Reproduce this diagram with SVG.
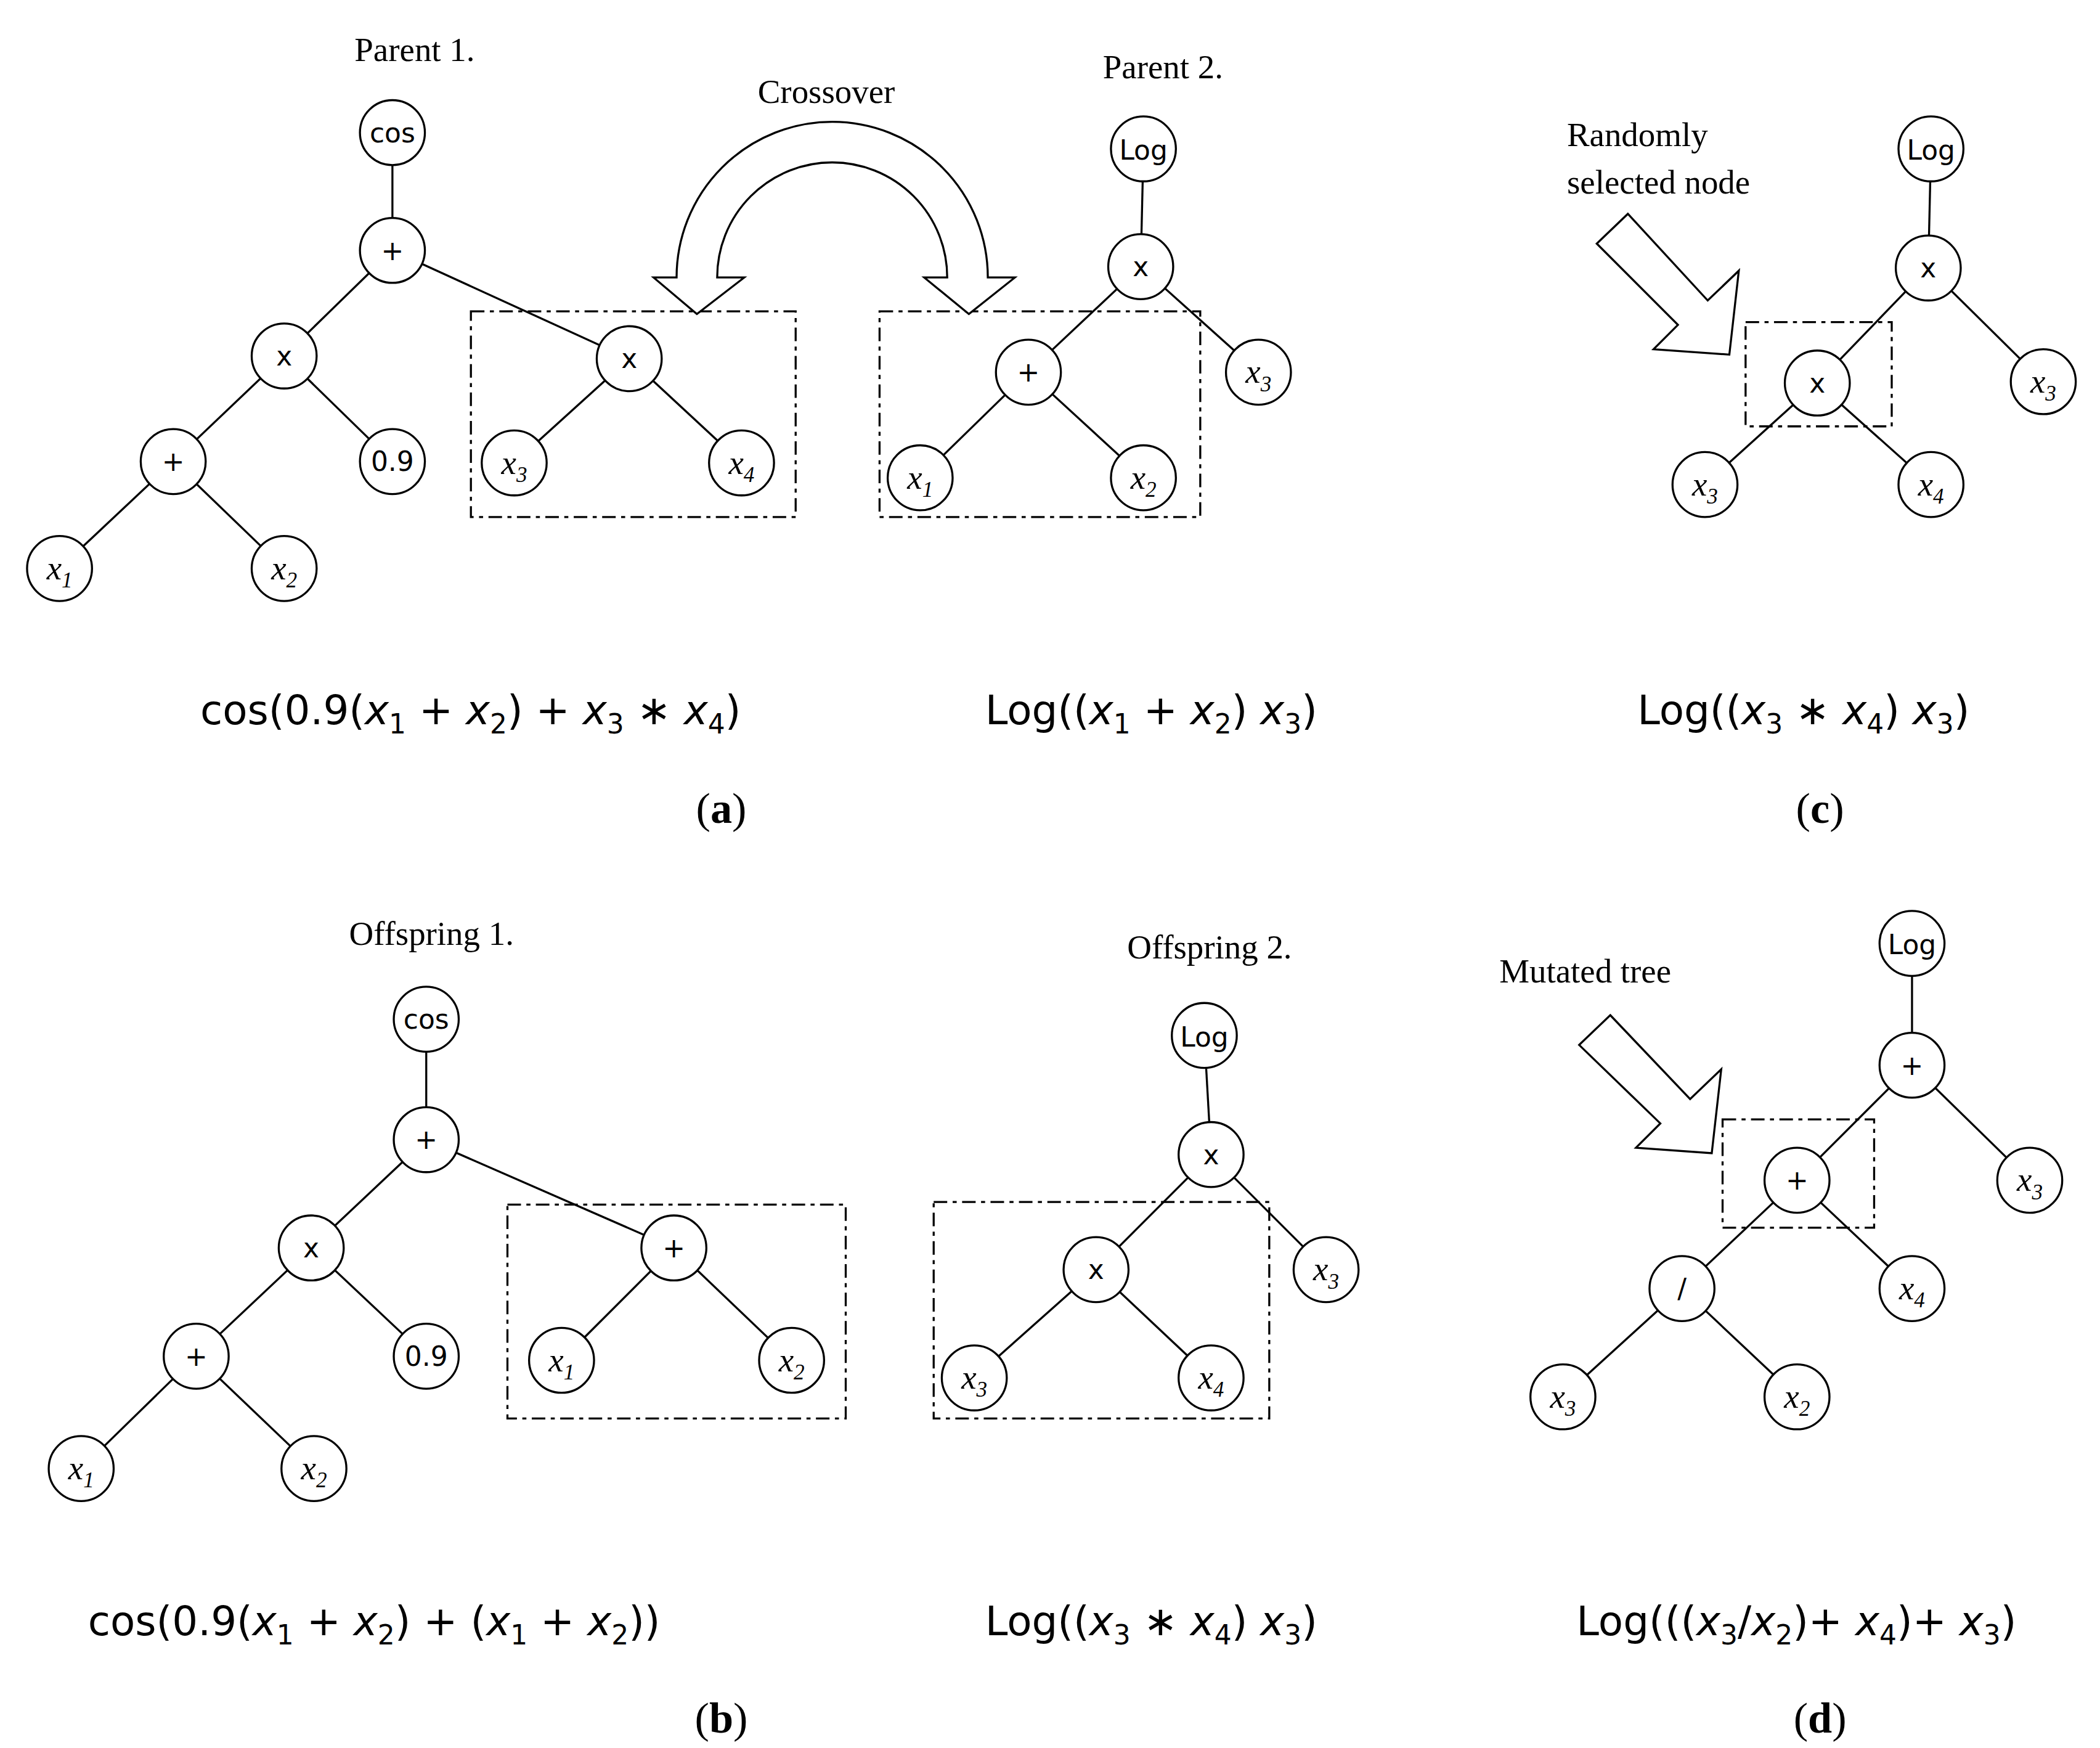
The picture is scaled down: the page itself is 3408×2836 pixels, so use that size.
<svg xmlns="http://www.w3.org/2000/svg" width="3408" height="2836" viewBox="0 0 3408 2836">
<style>
.e line{stroke:#000;stroke-width:1.5}
circle{fill:#fff;stroke:#000;stroke-width:1.5}
.op{font-family:"DejaVu Sans",sans-serif;font-size:20px;text-anchor:middle}
.lv{font-family:"Liberation Serif",serif;font-style:italic;font-size:25px;text-anchor:middle}
.lv tspan{font-size:16px}
.lbl{font-family:"Liberation Serif",serif;font-size:25px}
.f{font-family:"Liberation Serif",serif;font-size:33px}
.fx{font-style:italic}
.fx2{font-size:22px;font-style:normal}
.cap{font-family:"Liberation Serif",serif;font-size:32px;text-anchor:middle}
.box{fill:none;stroke:#000;stroke-width:1.5}
.dd{stroke-dasharray:10,4,3,4}
.arr{fill:#fff;stroke:#000;stroke-width:1.5}
.fs{font-family:"DejaVu Sans",sans-serif;font-size:30px}
</style>
<rect width="3408" height="2836" fill="#fff"/>
<g transform="scale(2.196)">
<g id="connectors" class="e">
<line x1="290" y1="98" x2="290" y2="185"/><line x1="290" y1="185" x2="210" y2="263"/><line x1="290" y1="185" x2="465" y2="265"/>
<line x1="210" y1="263" x2="128" y2="341"/><line x1="210" y1="263" x2="290" y2="341"/>
<line x1="128" y1="341" x2="44" y2="420"/><line x1="128" y1="341" x2="210" y2="420"/>
<line x1="465" y1="265" x2="380" y2="342"/><line x1="465" y1="265" x2="548" y2="342"/>
<line x1="845" y1="110" x2="843" y2="197"/><line x1="843" y1="197" x2="760" y2="275"/><line x1="843" y1="197" x2="930" y2="275"/>
<line x1="760" y1="275" x2="680" y2="353"/><line x1="760" y1="275" x2="845" y2="353"/>
<line x1="1427" y1="110" x2="1425" y2="198"/><line x1="1425" y1="198" x2="1343" y2="283"/><line x1="1425" y1="198" x2="1510" y2="282"/>
<line x1="1343" y1="283" x2="1260" y2="358"/><line x1="1343" y1="283" x2="1427" y2="358"/>
<line x1="315" y1="753" x2="315" y2="842"/><line x1="315" y1="842" x2="230" y2="922"/><line x1="315" y1="842" x2="498" y2="922"/>
<line x1="230" y1="922" x2="145" y2="1002"/><line x1="230" y1="922" x2="315" y2="1002"/>
<line x1="145" y1="1002" x2="60" y2="1085"/><line x1="145" y1="1002" x2="232" y2="1085"/>
<line x1="498" y1="922" x2="415" y2="1005"/><line x1="498" y1="922" x2="585" y2="1005"/>
<line x1="890" y1="765" x2="895" y2="853"/><line x1="895" y1="853" x2="810" y2="938"/><line x1="895" y1="853" x2="980" y2="938"/>
<line x1="810" y1="938" x2="720" y2="1018"/><line x1="810" y1="938" x2="895" y2="1018"/>
<line x1="1413" y1="697" x2="1413" y2="787"/><line x1="1413" y1="787" x2="1328" y2="872"/><line x1="1413" y1="787" x2="1500" y2="872"/>
<line x1="1328" y1="872" x2="1243" y2="952"/><line x1="1328" y1="872" x2="1413" y2="952"/>
<line x1="1243" y1="952" x2="1155" y2="1032"/><line x1="1243" y1="952" x2="1328" y2="1032"/>
</g>
<g id="boxes">
<rect class="box dd" x="348" y="230" width="240" height="152"/>
<rect class="box dd" x="650" y="230" width="237" height="152"/>
<rect class="box dd" x="1290" y="238" width="108" height="77"/>
<rect class="box dd" x="375" y="890" width="250" height="158"/>
<rect class="box dd" x="690" y="888" width="248" height="160"/>
<rect class="box dd" x="1273" y="827" width="112" height="80"/>
</g>
<g id="arrows">
<path class="arr" d="M500,205 A115,115 0 0 1 730,205 L750,205 L716,232 L683,205 L700,205 A85,85 0 0 0 530,205 L550,205 L515,232 L483,205 Z"/>
<polygon class="arr" points="1203,158 1262,222 1285,200 1278,262 1222,258 1240,240 1180,180"/>
<polygon class="arr" points="1190,750 1249,812 1272,790 1265,852 1209,848 1227,830 1167,772"/>
</g>
<g id="labels">
<text class="lbl" x="262" y="45">Parent 1.</text>
<text class="lbl" x="560" y="76">Crossover</text>
<text class="lbl" x="815" y="58">Parent 2.</text>
<text class="lbl" x="1158" y="108">Randomly</text>
<text class="lbl" x="1158" y="143">selected node</text>
<text class="lbl" x="258" y="698">Offspring 1.</text>
<text class="lbl" x="833" y="708">Offspring 2.</text>
<text class="lbl" x="1108" y="726">Mutated tree</text>
</g>
<g id="p1">
<g id="n1"><circle cx="290" cy="98" r="24"/><text class="op" x="290" y="105">cos</text></g>
<g id="n2"><circle cx="290" cy="185" r="24"/><text class="op" x="290" y="192">+</text></g>
<g id="n3"><circle cx="210" cy="263" r="24"/><text class="op" x="210" y="270">x</text></g>
<g id="n4"><circle cx="290" cy="341" r="24"/><text class="op" x="290" y="348">0.9</text></g>
<g id="n5"><circle cx="128" cy="341" r="24"/><text class="op" x="128" y="348">+</text></g>
<g id="n6"><circle cx="44" cy="420" r="24"/><text class="lv" x="44" y="428">x<tspan dy="6">1</tspan></text></g>
<g id="n7"><circle cx="210" cy="420" r="24"/><text class="lv" x="210" y="428">x<tspan dy="6">2</tspan></text></g>
<g id="n8"><circle cx="465" cy="265" r="24"/><text class="op" x="465" y="272">x</text></g>
<g id="n9"><circle cx="380" cy="342" r="24"/><text class="lv" x="380" y="350">x<tspan dy="6">3</tspan></text></g>
<g id="n10"><circle cx="548" cy="342" r="24"/><text class="lv" x="548" y="350">x<tspan dy="6">4</tspan></text></g>
</g>
<g id="p2">
<g id="n11"><circle cx="845" cy="110" r="24"/><text class="op" x="845" y="118" font-size="22">Log</text></g>
<g id="n12"><circle cx="843" cy="197" r="24"/><text class="op" x="843" y="204">x</text></g>
<g id="n13"><circle cx="760" cy="275" r="24"/><text class="op" x="760" y="282">+</text></g>
<g id="n14"><circle cx="930" cy="275" r="24"/><text class="lv" x="930" y="283">x<tspan dy="6">3</tspan></text></g>
<g id="n15"><circle cx="680" cy="353" r="24"/><text class="lv" x="680" y="361">x<tspan dy="6">1</tspan></text></g>
<g id="n16"><circle cx="845" cy="353" r="24"/><text class="lv" x="845" y="361">x<tspan dy="6">2</tspan></text></g>
</g>
<g id="pc">
<g id="n17"><circle cx="1427" cy="110" r="24"/><text class="op" x="1427" y="118" font-size="22">Log</text></g>
<g id="n18"><circle cx="1425" cy="198" r="24"/><text class="op" x="1425" y="205">x</text></g>
<g id="n19"><circle cx="1510" cy="282" r="24"/><text class="lv" x="1510" y="290">x<tspan dy="6">3</tspan></text></g>
<g id="n20"><circle cx="1343" cy="283" r="24"/><text class="op" x="1343" y="290">x</text></g>
<g id="n21"><circle cx="1260" cy="358" r="24"/><text class="lv" x="1260" y="366">x<tspan dy="6">3</tspan></text></g>
<g id="n22"><circle cx="1427" cy="358" r="24"/><text class="lv" x="1427" y="366">x<tspan dy="6">4</tspan></text></g>
</g>
<g id="o1">
<g id="n23"><circle cx="315" cy="753" r="24"/><text class="op" x="315" y="760">cos</text></g>
<g id="n24"><circle cx="315" cy="842" r="24"/><text class="op" x="315" y="849">+</text></g>
<g id="n25"><circle cx="230" cy="922" r="24"/><text class="op" x="230" y="929">x</text></g>
<g id="n26"><circle cx="315" cy="1002" r="24"/><text class="op" x="315" y="1009">0.9</text></g>
<g id="n27"><circle cx="145" cy="1002" r="24"/><text class="op" x="145" y="1009">+</text></g>
<g id="n28"><circle cx="60" cy="1085" r="24"/><text class="lv" x="60" y="1093">x<tspan dy="6">1</tspan></text></g>
<g id="n29"><circle cx="232" cy="1085" r="24"/><text class="lv" x="232" y="1093">x<tspan dy="6">2</tspan></text></g>
<g id="n30"><circle cx="498" cy="922" r="24"/><text class="op" x="498" y="929">+</text></g>
<g id="n31"><circle cx="415" cy="1005" r="24"/><text class="lv" x="415" y="1013">x<tspan dy="6">1</tspan></text></g>
<g id="n32"><circle cx="585" cy="1005" r="24"/><text class="lv" x="585" y="1013">x<tspan dy="6">2</tspan></text></g>
</g>
<g id="o2">
<g id="n33"><circle cx="890" cy="765" r="24"/><text class="op" x="890" y="773" font-size="22">Log</text></g>
<g id="n34"><circle cx="895" cy="853" r="24"/><text class="op" x="895" y="860">x</text></g>
<g id="n35"><circle cx="810" cy="938" r="24"/><text class="op" x="810" y="945">x</text></g>
<g id="n36"><circle cx="980" cy="938" r="24"/><text class="lv" x="980" y="946">x<tspan dy="6">3</tspan></text></g>
<g id="n37"><circle cx="720" cy="1018" r="24"/><text class="lv" x="720" y="1026">x<tspan dy="6">3</tspan></text></g>
<g id="n38"><circle cx="895" cy="1018" r="24"/><text class="lv" x="895" y="1026">x<tspan dy="6">4</tspan></text></g>
</g>
<g id="pd">
<g id="n39"><circle cx="1413" cy="697" r="24"/><text class="op" x="1413" y="705" font-size="22">Log</text></g>
<g id="n40"><circle cx="1413" cy="787" r="24"/><text class="op" x="1413" y="794">+</text></g>
<g id="n41"><circle cx="1500" cy="872" r="24"/><text class="lv" x="1500" y="880">x<tspan dy="6">3</tspan></text></g>
<g id="n42"><circle cx="1328" cy="872" r="24"/><text class="op" x="1328" y="879">+</text></g>
<g id="n43"><circle cx="1243" cy="952" r="24"/><text class="op" x="1243" y="959">/</text></g>
<g id="n44"><circle cx="1413" cy="952" r="24"/><text class="lv" x="1413" y="960">x<tspan dy="6">4</tspan></text></g>
<g id="n45"><circle cx="1155" cy="1032" r="24"/><text class="lv" x="1155" y="1040">x<tspan dy="6">3</tspan></text></g>
<g id="n46"><circle cx="1328" cy="1032" r="24"/><text class="lv" x="1328" y="1040">x<tspan dy="6">2</tspan></text></g>
</g>
<g id="formulas" class="fs">
<text x="148" y="535">cos(0.9(<tspan class="fx">x</tspan><tspan font-size="20" dy="7">1</tspan><tspan dy="-7"> + </tspan><tspan class="fx">x</tspan><tspan font-size="20" dy="7">2</tspan><tspan dy="-7">) + </tspan><tspan class="fx">x</tspan><tspan font-size="20" dy="7">3</tspan><tspan dy="-7"> ∗ </tspan><tspan class="fx">x</tspan><tspan font-size="20" dy="7">4</tspan><tspan dy="-7">)</tspan></text>
<text x="728" y="535">Log((<tspan class="fx">x</tspan><tspan font-size="20" dy="7">1</tspan><tspan dy="-7"> + </tspan><tspan class="fx">x</tspan><tspan font-size="20" dy="7">2</tspan><tspan dy="-7">) </tspan><tspan class="fx">x</tspan><tspan font-size="20" dy="7">3</tspan><tspan dy="-7">)</tspan></text>
<text x="1210" y="535">Log((<tspan class="fx">x</tspan><tspan font-size="20" dy="7">3</tspan><tspan dy="-7"> ∗ </tspan><tspan class="fx">x</tspan><tspan font-size="20" dy="7">4</tspan><tspan dy="-7">) </tspan><tspan class="fx">x</tspan><tspan font-size="20" dy="7">3</tspan><tspan dy="-7">)</tspan></text>
<text x="65" y="1208">cos(0.9(<tspan class="fx">x</tspan><tspan font-size="20" dy="7">1</tspan><tspan dy="-7"> + </tspan><tspan class="fx">x</tspan><tspan font-size="20" dy="7">2</tspan><tspan dy="-7">) + (</tspan><tspan class="fx">x</tspan><tspan font-size="20" dy="7">1</tspan><tspan dy="-7"> + </tspan><tspan class="fx">x</tspan><tspan font-size="20" dy="7">2</tspan><tspan dy="-7">))</tspan></text>
<text x="728" y="1208">Log((<tspan class="fx">x</tspan><tspan font-size="20" dy="7">3</tspan><tspan dy="-7"> ∗ </tspan><tspan class="fx">x</tspan><tspan font-size="20" dy="7">4</tspan><tspan dy="-7">) </tspan><tspan class="fx">x</tspan><tspan font-size="20" dy="7">3</tspan><tspan dy="-7">)</tspan></text>
<text x="1165" y="1208">Log(((<tspan class="fx">x</tspan><tspan font-size="20" dy="7">3</tspan><tspan dy="-7">/</tspan><tspan class="fx">x</tspan><tspan font-size="20" dy="7">2</tspan><tspan dy="-7">)+ </tspan><tspan class="fx">x</tspan><tspan font-size="20" dy="7">4</tspan><tspan dy="-7">)+ </tspan><tspan class="fx">x</tspan><tspan font-size="20" dy="7">3</tspan><tspan dy="-7">)</tspan></text>
</g>
<g id="captions">
<text class="cap" x="533" y="608">(<tspan font-weight="bold">a</tspan>)</text>
<text class="cap" x="1345" y="608">(<tspan font-weight="bold">c</tspan>)</text>
<text class="cap" x="533" y="1280">(<tspan font-weight="bold">b</tspan>)</text>
<text class="cap" x="1345" y="1280">(<tspan font-weight="bold">d</tspan>)</text>
</g>
</g>
</svg>
